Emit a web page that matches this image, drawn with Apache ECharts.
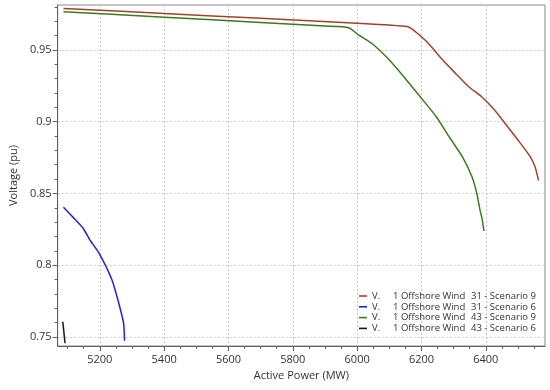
<!DOCTYPE html>
<html>
<head>
<meta charset="utf-8">
<script src="https://cdn.jsdelivr.net/npm/echarts@6/dist/echarts.min.js"></script>
<style>html,body{margin:0;padding:0;background:#fff}#c{width:550px;height:390px}</style>
</head>
<body>
<div id="c"></div>
<script>
// ---- data ----
const legendNames = ['31 - Scenario 9', '31 - Scenario 6', '43 - Scenario 9', '43 - Scenario 6'];
const xTickLabels = [5200, 5400, 5600, 5800, 6000, 6200, 6400];
const yTickLabels = [0.75, 0.8, 0.85, 0.9, 0.95];

const pW31S9 = [5087, 5400, 5700, 6000, 6155, 6175, 6206, 6226, 6266, 6306, 6347, 6387, 6427, 6468, 6508, 6538, 6553, 6564];
const vW31S9 = [0.979, 0.9755, 0.9721, 0.9687, 0.9664, 0.9639, 0.958, 0.9535, 0.943, 0.9337, 0.9244, 0.9174, 0.9082, 0.8965, 0.8849, 0.8756, 0.8686, 0.859];

const pW31S6 = [5087, 5117, 5148, 5168, 5198, 5238, 5259, 5274, 5277];
const vW31S6 = [0.8403, 0.8333, 0.8257, 0.818, 0.8082, 0.7896, 0.7734, 0.7594, 0.7473];

const pW43S9 = [5087, 5400, 5700, 5900, 5974, 6004, 6045, 6095, 6145, 6196, 6246, 6286, 6327, 6357, 6372, 6382, 6389, 6394];
const vW43S9 = [0.9767, 0.9729, 0.9692, 0.9667, 0.9656, 0.9605, 0.9547, 0.9442, 0.9314, 0.9174, 0.9035, 0.8895, 0.8756, 0.8616, 0.85, 0.8384, 0.8315, 0.8238];

const pW43S6 = [5085, 5092];
const vW43S6 = [0.7605, 0.7455];

const colors = ['#a0432a', '#2222d0', '#3b7a20', '#151515'];

// ---- build ----
const zip = (a, b) => a.map((x, i) => [x, b[i]]);
const seriesData = [zip(pW31S9, vW31S9), zip(pW31S6, vW31S6), zip(pW43S9, vW43S9), zip(pW43S6, vW43S6)];

const xMin = 5069, xMax = 6584, yMin = 0.7436, yMax = 0.9814;
const xMinor = []; for (let v = 5100; v <= 6550; v += 50) xMinor.push(v);
const yMinor = []; for (let k = 75; k <= 98; k++) yMinor.push(k / 100);

const FONT = 'Open Sans';
const axisCol = '#606060';
const splitStyle = { color: '#c8c8c8', type: [2, 2], width: 1 };

const chart = echarts.init(document.getElementById('c'));
chart.setOption({
  animation: false,
  color: colors,
  grid: { left: 44, top: 5, right: 5, bottom: 44, show: true, borderColor: '#8a8a8a', borderWidth: 1, backgroundColor: 'transparent' },
  legend: {
    orient: 'vertical', left: 354, top: 286, icon: 'rect', itemWidth: 8, itemHeight: 1.6, itemGap: 0.8,
    data: legendNames,
    formatter: n => '{a|V.}{b|1 Offshore Wind}{c|' + n + '}',
    textStyle: {
      fontFamily: FONT, fontSize: 9.5, color: '#333', lineHeight: 10,
      rich: {
        a: { width: 21, fontFamily: FONT, fontSize: 9.5, color: '#333' },
        b: { width: 78, fontFamily: FONT, fontSize: 9.5, color: '#333' },
        c: { fontFamily: FONT, fontSize: 9.5, color: '#333' }
      }
    }
  },
  xAxis: [{
    type: 'value', min: xMin, max: xMax, position: 'bottom',
    name: 'Active Power (MW)', nameLocation: 'middle', nameGap: 18,
    nameTextStyle: { fontFamily: FONT, fontSize: 11, color: '#333' },
    axisLine: { show: true, lineStyle: { color: axisCol } },
    axisTick: { show: true, customValues: xTickLabels, length: 5, lineStyle: { color: axisCol } },
    axisLabel: { customValues: xTickLabels, margin: 8, fontFamily: FONT, fontSize: 11, color: '#333', formatter: v => String(v) },
    splitLine: { show: true, lineStyle: splitStyle }
  }, {
    type: 'value', min: xMin, max: xMax, position: 'bottom',
    axisLine: { show: false },
    axisTick: { show: true, customValues: xMinor, length: 3, lineStyle: { color: axisCol } },
    axisLabel: { show: false }, splitLine: { show: false }
  }],
  yAxis: [{
    type: 'value', min: yMin, max: yMax, position: 'left',
    name: 'Voltage (pu)', nameLocation: 'middle', nameGap: 33,
    nameTextStyle: { fontFamily: FONT, fontSize: 11, color: '#333' },
    axisLine: { show: true, lineStyle: { color: axisCol } },
    axisTick: { show: true, customValues: yTickLabels, length: 5, lineStyle: { color: axisCol } },
    axisLabel: { customValues: yTickLabels, margin: 6, fontFamily: FONT, fontSize: 11, color: '#333', formatter: v => String(Math.round(v * 100) / 100) },
    splitLine: { show: true, lineStyle: splitStyle }
  }, {
    type: 'value', min: yMin, max: yMax, position: 'left',
    axisLine: { show: false },
    axisTick: { show: true, customValues: yMinor, length: 3, lineStyle: { color: axisCol } },
    axisLabel: { show: false }, splitLine: { show: false }
  }],
  series: legendNames.map((n, i) => ({
    name: n, type: 'line', xAxisIndex: 0, yAxisIndex: 0,
    data: seriesData[i], showSymbol: false, symbol: 'none', smooth: 0.2,
    lineStyle: { width: 1.5, color: colors[i] }, itemStyle: { color: colors[i] }
  }))
});
</script>
</body>
</html>
